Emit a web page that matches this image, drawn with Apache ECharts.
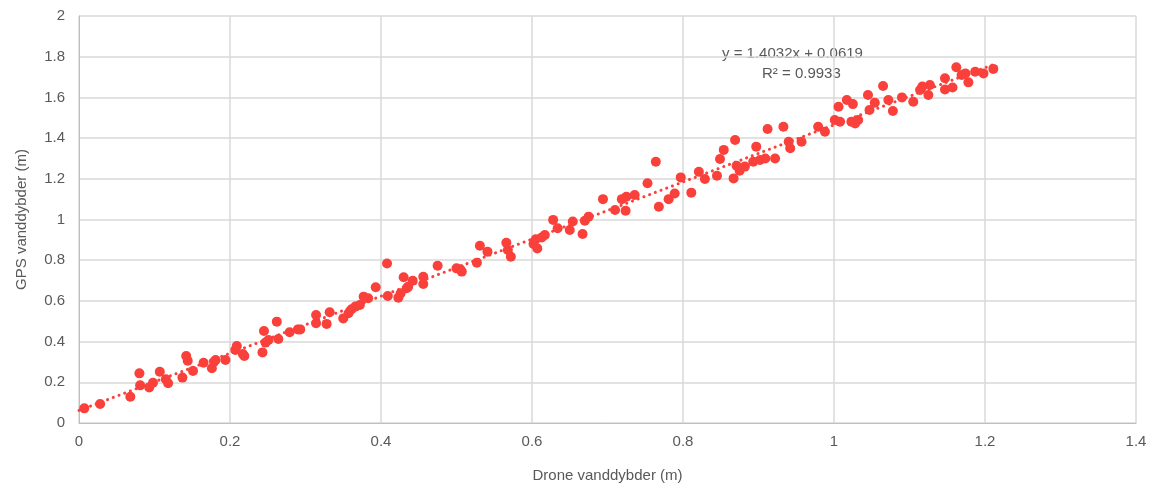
<!DOCTYPE html>
<html lang="da">
<head>
    <meta charset="UTF-8">
    <title>Drone vs GPS vanddybder</title>
    <script src="https://cdn.jsdelivr.net/npm/echarts@6/dist/echarts.min.js"></script>
    <style>
        html, body { margin: 0; padding: 0; background: #fff; }
    </style>
</head>
<body>
    <div id="chart" style="width: 1158px;height:489px;"></div>
    <script>
        // målte punkter: drone (x) og GPS (y)
        var droneDepth = [
            0.007, 0.028, 0.068, 0.080, 0.081, 0.093, 0.098, 0.107, 0.115, 0.118,
            0.137, 0.142, 0.144, 0.151, 0.165, 0.176, 0.179, 0.181, 0.194, 0.209,
            0.207, 0.217, 0.219, 0.243, 0.245, 0.247, 0.251, 0.262, 0.264, 0.279,
            0.290, 0.293, 0.314, 0.314, 0.328, 0.332, 0.350, 0.357, 0.361, 0.366,
            0.372, 0.377, 0.383, 0.393, 0.408, 0.409, 0.423, 0.426, 0.430, 0.434,
            0.436, 0.442, 0.456, 0.456, 0.475, 0.500, 0.505, 0.507, 0.527, 0.531,
            0.541, 0.566, 0.568, 0.572, 0.602, 0.605, 0.607, 0.613, 0.617, 0.628,
            0.634, 0.650, 0.654, 0.667, 0.670, 0.675, 0.694, 0.710, 0.719, 0.724,
            0.725, 0.736, 0.753, 0.764, 0.768, 0.781, 0.789, 0.797, 0.811, 0.821,
            0.829, 0.845, 0.849, 0.854, 0.867, 0.869, 0.871, 0.875, 0.882, 0.893,
            0.897, 0.902, 0.909, 0.912, 0.922, 0.933, 0.940, 0.942, 0.957, 0.979,
            0.988, 1.001, 1.006, 1.008, 1.017, 1.025, 1.023, 1.028, 1.032, 1.045,
            1.047, 1.054, 1.065, 1.072, 1.078, 1.090, 1.105, 1.114, 1.117, 1.125,
            1.127, 1.147, 1.147, 1.157, 1.162, 1.169, 1.174, 1.178, 1.187, 1.198,
            1.211
        ];
        var gpsDepth = [
            0.072, 0.093, 0.129, 0.244, 0.185, 0.175, 0.198, 0.252, 0.215, 0.195,
            0.223, 0.329, 0.306, 0.256, 0.296, 0.269, 0.301, 0.310, 0.310, 0.378,
            0.359, 0.339, 0.329, 0.347, 0.452, 0.395, 0.408, 0.498, 0.413, 0.446,
            0.460, 0.460, 0.531, 0.490, 0.487, 0.544, 0.514, 0.539, 0.559, 0.572,
            0.580, 0.621, 0.613, 0.667, 0.784, 0.624, 0.616, 0.637, 0.716, 0.662,
            0.670, 0.699, 0.719, 0.683, 0.773, 0.760, 0.755, 0.744, 0.788, 0.871,
            0.842, 0.886, 0.850, 0.817, 0.880, 0.903, 0.858, 0.912, 0.924, 0.998,
            0.957, 0.948, 0.990, 0.929, 0.994, 1.014, 1.100, 1.047, 1.100, 1.043,
            1.112, 1.120, 1.178, 1.284, 1.063, 1.100, 1.128, 1.207, 1.132, 1.235,
            1.199, 1.215, 1.297, 1.342, 1.202, 1.391, 1.264, 1.240, 1.260, 1.284,
            1.358, 1.292, 1.300, 1.445, 1.300, 1.456, 1.382, 1.350, 1.382, 1.456,
            1.431, 1.489, 1.554, 1.480, 1.587, 1.567, 1.480, 1.472, 1.489, 1.612,
            1.538, 1.574, 1.656, 1.587, 1.533, 1.600, 1.579, 1.636, 1.653, 1.612,
            1.661, 1.694, 1.639, 1.649, 1.748, 1.710, 1.718, 1.674, 1.726, 1.718,
            1.740
        ];

        // lineær tendenslinje fra regneark
        var slope = 1.4032;
        var intercept = 0.0619;
        var rSquared = 0.9933;
        var trendRange = [0, 1.211];

        var xTicks = { min: 0, max: 1.4, interval: 0.2 };
        var yTicks = { min: 0, max: 2, interval: 0.2 };

        var points = droneDepth.map(function (x, i) { return [x, gpsDepth[i]]; });
        var trend = trendRange.map(function (x) { return [x, slope * x + intercept]; });

        var chart = echarts.init(document.getElementById("chart"));
        var textColor = '#595959';
        var red = '#f9403b';

        var option = {
            animation: false,
            textStyle: { fontFamily: 'Liberation Sans, Arial, sans-serif' },
            grid: { left: 79, right: 22, top: 16, bottom: 66 },
            xAxis: {
                type: 'value',
                min: xTicks.min, max: xTicks.max, interval: xTicks.interval,
                name: 'Drone vanddybder (m)',
                nameLocation: 'middle',
                nameGap: 45,
                nameTextStyle: { color: textColor, fontSize: 15 },
                axisLine: { show: true, lineStyle: { color: '#bfbfbf', width: 1 } },
                axisTick: { show: false },
                axisLabel: { color: textColor, fontSize: 15, margin: 11 },
                splitLine: { show: true, lineStyle: { color: '#d9d9d9', width: 1.5 } }
            },
            yAxis: {
                type: 'value',
                min: yTicks.min, max: yTicks.max, interval: yTicks.interval,
                name: 'GPS vanddybder (m)',
                nameLocation: 'middle',
                nameGap: 50,
                nameTextStyle: { color: textColor, fontSize: 15 },
                axisLine: { show: true, lineStyle: { color: '#bfbfbf', width: 1 } },
                axisTick: { show: false },
                axisLabel: { color: textColor, fontSize: 15, margin: 14 },
                splitLine: { show: true, lineStyle: { color: '#d9d9d9', width: 1.5 } }
            },
            series: [
                {
                    type: 'line',
                    data: trend,
                    symbol: 'none',
                    z: 1,
                    lineStyle: { color: red, width: 3, type: [0.1, 6], cap: 'round' }
                },
                {
                    type: 'scatter',
                    data: points,
                    symbolSize: 10,
                    z: 2,
                    itemStyle: { color: red, opacity: 1 }
                }
            ],
            graphic: [
                {
                    type: 'text', left: 722, top: 46,
                    style: { text: 'y = ' + slope.toFixed(4) + 'x + ' + intercept.toFixed(4),
                             fill: textColor, font: '15px Liberation Sans, Arial, sans-serif' }
                },
                {
                    type: 'text', left: 762, top: 66,
                    style: { text: 'R² = ' + rSquared.toFixed(4),
                             fill: textColor, font: '15px Liberation Sans, Arial, sans-serif' }
                }
            ]
        };

        chart.setOption(option, true);
    </script>
</body>
</html>
